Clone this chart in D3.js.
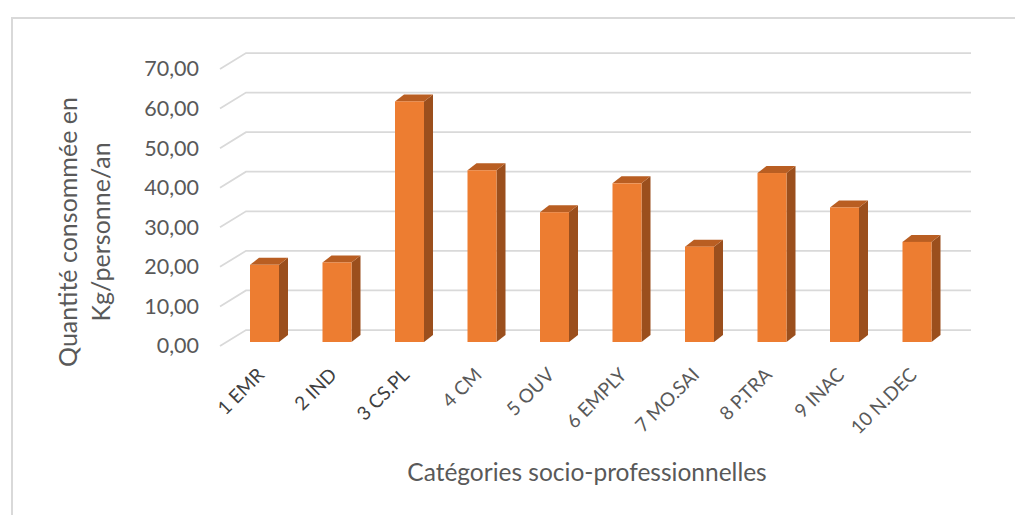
<!DOCTYPE html>
<html>
<head>
<meta charset="utf-8">
<script src="https://cdn.jsdelivr.net/npm/d3@7"></script>
<style>
  html, body { margin: 0; padding: 0; background: #fff; }
  svg { display: block; }
  text { font-family: Lato, "Open Sans", sans-serif; }
</style>
</head>
<body>
<svg id="chart" width="1015" height="515"></svg>
<script>
// Consumption per socio-professional category (kg / person / year)
const categories = ["1 EMR", "2 IND", "3 CS.PL", "4 CM", "5 OUV", "6 EMPLY", "7 MO.SAI", "8 P.TRA", "9 INAC", "10 N.DEC"];
const values = [19.5, 20.1, 60.8, 43.4, 32.8, 40.1, 24.1, 42.7, 34.0, 25.3];
const yTicks = [0, 10, 20, 30, 40, 50, 60, 70];
const yTitle = ["Quantité consommée en", "Kg/personne/an"];
const xTitle = "Catégories socio-professionnelles";

const svg = d3.select("#chart");

// Outer chart frame
svg.append("path")
  .attr("d", "M12,520 V18 H1020")
  .attr("fill", "none").attr("stroke", "#d9d9d9").attr("stroke-width", 2);

// Oblique 3D projection: depth shifts right and up
const wallDx = 26, wallDy = -16;       // full depth of the floor
const barDx = 9, barDy = -7;           // depth of each column
const barDepth = 0.25;                 // columns sit a quarter into the floor

// Front-edge value scale
const y = d3.scaleLinear().domain([0, 70]).range([346, 69]);
// Front-edge category scale
const xFront = d3.scaleBand().domain(categories).range([220, 945]);
// Column face position at its own depth
const xBar = d3.scaleBand().domain(categories)
  .range([220 + wallDx * barDepth + 1.75, 945 + wallDx * barDepth + 1.75])
  .paddingInner(0.6).paddingOuter(0.3);

// Gridlines on the side floor edge + back wall
const grid = svg.append("g");
yTicks.forEach(t => {
  const x0 = xFront.range()[0], y0 = y(t);
  const xb = x0 + wallDx, yb = y0 + wallDy;
  const xe = xFront.range()[1] + wallDx;
  grid.append("path")
    .attr("d", `M${x0},${y0} L${xb},${yb} H${xe}`)
    .attr("fill", "none").attr("stroke", "#d9d9d9").attr("stroke-width", 1.75);
});

// Y tick labels
svg.append("g").selectAll("text").data(yTicks).join("text")
  .attr("x", 199).attr("y", d => y(d) + 2)
  .attr("text-anchor", "end").attr("dominant-baseline", "middle")
  .attr("fill", "#595959").attr("font-size", 21.5)
  .text(d => d3.format(".2f")(d).replace(".", ","));

// Columns
const yb0 = y(0) + wallDy * barDepth;   // baseline of column fronts
const yBar = v => yb0 - (y(0) - y(v));
const bars = svg.append("g").selectAll("g").data(categories).join("g");
bars.each(function(c, i) {
  const g = d3.select(this);
  const x0 = xBar(c), w = xBar.bandwidth();
  const top = yBar(values[i]);
  // side face
  g.append("path")
    .attr("d", `M${x0 + w},${top} L${x0 + w + barDx},${top + barDy} L${x0 + w + barDx},${yb0 + barDy} L${x0 + w},${yb0} Z`)
    .attr("fill", "#9b4f1d");
  // top face
  g.append("path")
    .attr("d", `M${x0},${top} L${x0 + barDx},${top + barDy} L${x0 + w + barDx},${top + barDy} L${x0 + w},${top} Z`)
    .attr("fill", "#b95e22");
  // front face
  g.append("rect")
    .attr("x", x0).attr("y", top).attr("width", w).attr("height", yb0 - top)
    .attr("fill", "#ed7d31");
});

// Category labels, rotated
svg.append("g").selectAll("text").data(categories).join("text")
  .attr("transform", c => `translate(${xBar(c) + xBar.bandwidth() / 2 + 1},${376}) rotate(-45)`)
  .attr("text-anchor", "end")
  .attr("fill", (c, i) => i < 3 ? "#404040" : "#595959")
  .attr("font-size", 19)
  .text(c => c);

// Axis titles
const yt = svg.append("text")
  .attr("transform", "translate(77,232) rotate(-90)")
  .attr("text-anchor", "middle").attr("fill", "#595959").attr("font-size", 25);
yTitle.forEach((line, k) => {
  yt.append("tspan").attr("x", 0).attr("dy", k === 0 ? 0 : 33).text(line);
});

svg.append("text")
  .attr("x", 587).attr("y", 481)
  .attr("text-anchor", "middle").attr("fill", "#595959").attr("font-size", 24.5)
  .text(xTitle);
</script>
</body>
</html>
